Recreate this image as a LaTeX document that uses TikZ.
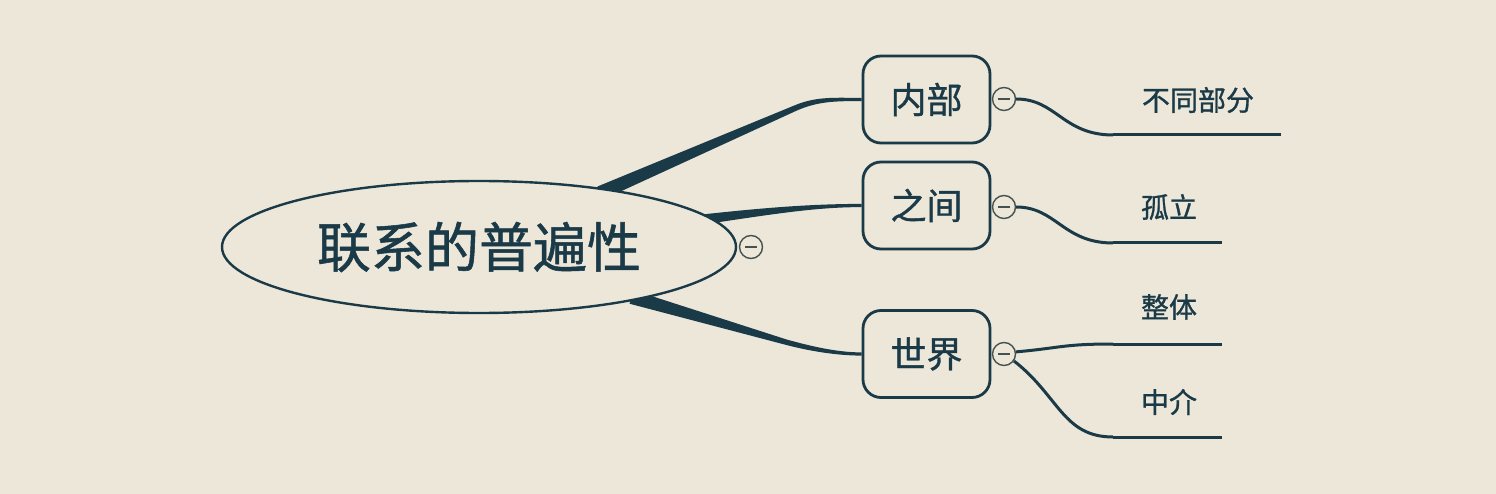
\documentclass[tikz,border=0pt]{standalone}
\usepackage{fontspec}
\newfontfamily\cjk[FakeBold=1]{Noto Sans CJK SC}
\usetikzlibrary{shapes.geometric,calc}
\definecolor{bg}{HTML}{EDE7D9}
\definecolor{ink}{HTML}{1B3A48}
\definecolor{cgray}{HTML}{46524F}
\pgfdeclarelayer{backdrop}
\pgfdeclarelayer{background}
\pgfsetlayers{backdrop,background,main}
\tikzset{
  rootnode/.style={ellipse, draw=ink, line width=2.4pt, fill=bg, minimum width=514pt, minimum height=132pt, inner sep=0pt, text=ink, font=\cjk\fontsize{54}{60}\selectfont},
  topicbox/.style={rectangle, rounded corners=18pt, draw=ink, line width=2.8pt, fill=bg, minimum width=127pt, minimum height=87pt, inner sep=0pt, text=ink, font=\cjk\fontsize{36}{40}\selectfont},
  leaftext/.style={inner sep=0pt, text=ink, font=\cjk\fontsize{28}{32}\selectfont},
  collapse/.style={circle, draw=cgray, line width=1.4pt, fill=bg, minimum size=23pt, inner sep=0pt,
    path picture={\draw[cgray, line width=1.4pt] (path picture bounding box.center) +(-6,0) -- +(6,0);}},
  branch/.style={draw=ink, line width=3pt},
  underline/.style={draw=ink, line width=3pt},
}
\begin{document}
\begin{tikzpicture}[x=1pt,y=-1pt]
\begin{pgfonlayer}{backdrop}
\fill[bg] (0,0) rectangle (1496,494);
\end{pgfonlayer}
\useasboundingbox (0,0) rectangle (1496,494);

% main nodes
\node[rootnode] (root) at (479,247) {联系的普遍性};
\node[topicbox] (n1) at (926.5,99.5) {内部};
\node[topicbox] (n2) at (926.5,205.5) {之间};
\node[topicbox] (n3) at (926.5,354) {世界};

% collapse markers
\node[collapse] (c0) at (751,247) {};
\node[collapse] (c1) at (1004,99) {};
\node[collapse] (c2) at (1004,207) {};
\node[collapse] (c3) at (1004,354) {};

% leaves
\node[leaftext] (l1) at (1198,100) {不同部分};
\node[leaftext] (l2) at (1169,207) {孤立};
\node[leaftext] (l3) at (1169,307) {整体};
\node[leaftext] (l4) at (1169,402) {中介};
\coordinate (u1s) at (1113,135); \coordinate (u1e) at (1281,135);
\coordinate (u2s) at (1113,243); \coordinate (u2e) at (1222,243);
\coordinate (u3s) at (1113,344); \coordinate (u3e) at (1222,344);
\coordinate (u4s) at (1113,437); \coordinate (u4e) at (1222,437);

\begin{pgfonlayer}{background}
% tapered connector to 内部
\coordinate (a0) at ($(root.24)+(-9,4)$);
\coordinate (a1) at ($(n1.west)+(-66,8.5)$);
\fill[ink] ($(a0)+(-2.8,-6.5)$) -- ($(a1)+(-1.1,-2.6)$)
  .. controls ($(a1)+(21,-12)$) and ($(n1.west)+(-25,-1.6)$) .. ($(n1.west)+(0,-1.6)$)
  -- ($(n1.west)+(0,1.6)$)
  .. controls ($(n1.west)+(-25,1.6)$) and ($(a1)+(23,-7)$) .. ($(a1)+(1.1,2.6)$)
  -- ($(a0)+(2.8,6.5)$) -- cycle;
% tapered connector to 之间
\coordinate (b0) at ($(root.7)+(-9,1)$);
\fill[ink] ($(b0)+(0,-5)$)
  .. controls ($(b0)+(60,-11.5)$) and ($(n2.west)+(-50,-1.6)$) .. ($(n2.west)+(0,-1.6)$)
  -- ($(n2.west)+(0,1.6)$)
  .. controls ($(n2.west)+(-50,1.6)$) and ($(b0)+(60,-3.5)$) .. ($(b0)+(0,5)$) -- cycle;
% tapered connector to 世界
\coordinate (d0) at ($(root.-18)+(-9,-2.5)$);
\coordinate (d1) at ($(n3.west)+(-76,-12)$);
\fill[ink] ($(d0)+(1.8,-6.8)$) -- ($(d1)+(0.7,-2.6)$)
  .. controls ($(d1)+(24.5,4)$) and ($(n3.west)+(-25,-1.6)$) .. ($(n3.west)+(0,-1.6)$)
  -- ($(n3.west)+(0,1.6)$)
  .. controls ($(n3.west)+(-25,1.6)$) and ($(d1)+(23.5,9)$) .. ($(d1)+(-0.7,2.6)$)
  -- ($(d0)+(-1.8,6.8)$) -- cycle;
\end{pgfonlayer}

% right-hand branches
\draw[branch] (c1.east) .. controls +(40,0) and +(-50,0) .. (u1s);
\draw[underline] (u1s) -- (u1e);
\draw[branch] (c2.east) .. controls +(40,0) and +(-50,0) .. (u2s);
\draw[underline] (u2s) -- (u2e);
\draw[branch] (c3.10) .. controls +(45,-4) and +(-50,0) .. (u3s);
\draw[underline] (u3s) -- (u3e);
\draw[branch] (c3.-35) .. controls +(45,35) and +(-50,0) .. (u4s);
\draw[underline] (u4s) -- (u4e);
\end{tikzpicture}
\end{document}
